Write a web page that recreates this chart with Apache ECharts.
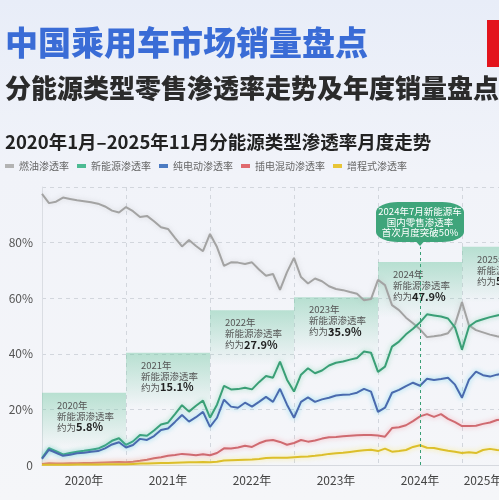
<!DOCTYPE html>
<html>
<head>
<meta charset="utf-8">
<script src="https://cdn.jsdelivr.net/npm/echarts@6/dist/echarts.min.js"></script>
<style>
html, body { margin: 0; padding: 0; overflow: hidden; width: 499px; height: 500px; background: #eef1f8; }
#main { width: 560px; height: 500px; }
</style>
</head>
<body>
<div id="main"></div>
<script>
var dom = document.getElementById('main');
var myChart = echarts.init(dom);
var FONT = '"Noto Sans CJK SC", "Noto Sans", sans-serif';

// month categories 2020-01 .. 2025-11
var months = [];
for (var y = 2020; y <= 2025; y++) {
  for (var m = 1; m <= 12; m++) {
    if (y === 2025 && m > 11) break;
    months.push(y + '-' + (m < 10 ? '0' + m : m));
  }
}

var seriesNames = ['燃油渗透率', '新能源渗透率', '纯电动渗透率', '插电混动渗透率', '增程式渗透率'];

var fuel = [
  97.5, 94.2, 94.7, 96.2, 95.7, 95.2, 94.9, 94.5, 94.0, 93.0, 91.5, 90.8,
  92.8, 91.3, 89.2, 89.6, 87.7, 85.5, 84.9, 81.7, 78.6, 80.9, 78.8, 76.9,
  83.1, 78.4, 71.6, 72.9, 72.8, 72.3, 72.9, 70.3, 68.1, 68.7, 63.0, 69.4,
  74.5, 67.6, 65.3, 67.1, 66.1, 64.3, 63.3, 62.9, 62.2, 61.6, 59.3, 59.7,
  66.6, 64.7, 57.5, 55.7, 53.0, 51.0, 48.8, 46.0, 46.3, 46.7, 47.4, 50.6,
  58.6, 50.2, 48.5, 47.7, 46.9, 46.3, 45.8, 44.7, 42.1, 42.7, 40.5
];
var nev = [
  2.5, 6.1, 5.0, 3.8, 4.3, 4.8, 5.1, 5.5, 5.9, 7.0, 8.7, 9.6,
  7.2, 8.5, 10.8, 10.5, 12.4, 14.6, 15.2, 18.3, 21.5, 19.2, 21.3, 23.2,
  17.0, 21.7, 28.5, 27.2, 27.3, 27.8, 27.2, 29.8, 32.0, 31.4, 37.2, 30.7,
  26.4, 32.5, 34.8, 33.0, 34.0, 35.8, 36.8, 37.2, 37.9, 38.5, 40.8, 40.4,
  33.5, 35.4, 42.6, 44.4, 47.0, 49.0, 51.3, 54.2, 53.8, 53.4, 52.7, 49.5,
  41.5, 49.8, 51.6, 52.4, 53.2, 53.8, 54.3, 55.4, 58.0, 57.4, 59.6
];
var bev = [
  2.2, 5.5, 4.4, 3.3, 3.7, 4.2, 4.4, 4.8, 5.0, 6.0, 7.4, 8.2,
  6.3, 7.2, 9.4, 9.0, 10.4, 12.6, 13.1, 15.5, 18.0, 15.6, 17.2, 19.1,
  13.7, 17.0, 23.5, 21.0, 20.6, 22.4, 21.0, 22.7, 24.5, 22.7, 27.4, 21.7,
  17.0, 22.7, 24.3, 22.7, 23.6, 24.2, 25.0, 25.3, 25.4, 26.0, 27.4, 26.4,
  19.1, 20.6, 26.0, 27.0, 28.4, 29.6, 28.5, 31.0, 30.6, 30.9, 31.4, 28.9,
  24.2, 30.7, 33.6, 32.3, 31.8, 32.5, 33.0, 34.0, 35.6, 35.0, 36.6
];
var phev = [
  0.4, 0.6, 0.5, 0.5, 0.6, 0.6, 0.7, 0.7, 0.8, 0.9, 1.0, 1.1,
  1.0, 1.2, 1.5, 1.9, 2.4, 2.8, 3.3, 3.6, 4.0, 3.8, 3.5, 3.9,
  3.5, 4.3, 6.0, 5.9, 6.3, 6.9, 6.5, 7.8, 8.7, 9.0, 8.3, 7.3,
  7.9, 9.0, 8.4, 8.8, 9.5, 10.0, 10.1, 10.3, 10.5, 10.7, 10.8, 10.8,
  10.6, 10.2, 13.3, 13.6, 14.3, 15.8, 17.5, 18.3, 17.3, 18.3, 16.6, 15.4,
  14.0, 14.0, 14.1, 14.8, 15.3, 16.2, 16.4, 16.6, 16.9, 16.3, 16.6
];
var erev = [
  0.1, 0.1, 0.1, 0.1, 0.1, 0.2, 0.2, 0.2, 0.2, 0.3, 0.3, 0.3,
  0.3, 0.4, 0.5, 0.5, 0.6, 0.7, 0.7, 0.8, 0.9, 1.0, 1.0, 1.1,
  1.0, 1.2, 1.6, 1.7, 1.8, 1.9, 2.0, 2.2, 2.5, 2.6, 2.6, 2.6,
  2.8, 3.0, 3.1, 3.3, 3.6, 4.0, 4.2, 4.4, 4.7, 5.0, 5.3, 5.5,
  5.0, 5.9, 4.8, 5.0, 5.4, 6.5, 7.1, 6.2, 6.1, 5.6, 5.1, 4.8,
  4.3, 4.6, 4.3, 5.4, 5.8, 5.4, 5.2, 5.0, 4.9, 4.8, 4.6
];

// yearly NEV penetration notes
var noteYears = ['2020', '2021', '2022', '2023', '2024', '2025'];
var noteNev = ['5.8%', '15.1%', '27.9%', '35.9%', '47.9%', '53.6%'];
// where each note box starts (y value, %) - layout only
var noteTop = [26, 40.4, 55.7, 60.3, 73, 78.5];

var calloutMonth = '2024-07';
var calloutText = '2024年7月新能源车\n国内零售渗透率\n首次月度突破50%';

var lineColors = ['#a3a3a3', '#3a9f76', '#4a6aae', '#cf6a70', '#dcbf2b'];
var legendColors = ['#b3b3b3', '#4dbb93', '#4c7bc2', '#e06a6e', '#e8c536'];
var glowColors = ['rgba(160,160,160,0.35)', 'rgba(110,210,165,0.7)', 'rgba(90,205,235,0.75)',
                  'rgba(245,150,160,0.75)', 'rgba(250,232,110,0.85)'];
var dataList = [fuel, nev, bev, phev, erev];

var noteAreas = noteYears.map(function (yr, i) {
  var start = yr + '-01';
  var end = i < noteYears.length - 1 ? noteYears[i + 1] + '-01' : months[months.length - 1];
  return [{
    xAxis: start,
    yAxis: noteTop[i],
    itemStyle: {
      color: new echarts.graphic.LinearGradient(0, 0, 0, 1, [
        { offset: 0, color: 'rgba(110,198,160,0.45)' },
        { offset: 1, color: 'rgba(110,198,160,0)' }
      ])
    },
    label: {
      formatter: '{a|' + yr + '年}\n{a|新能源渗透率}\n{a|约为}{b|' + noteNev[i] + '}'
    }
  }, {
    xAxis: end,
    yAxis: noteTop[i] - 20
  }];
});

var series = seriesNames.map(function (name, k) {
  var s = {
    name: name,
    type: 'line',
    data: dataList[k],
    symbol: 'none',
    z: 3,
    itemStyle: { color: legendColors[k] },
    lineStyle: {
      color: lineColors[k],
      width: 2,
      shadowColor: glowColors[k],
      shadowBlur: 5
    },
    emphasis: { disabled: true }
  };
  if (k === 1) {
    s.markLine = {
      silent: true,
      symbol: 'none',
      label: { show: false },
      lineStyle: { color: '#3a9f76', type: [3, 3], width: 1 },
      data: [[{ coord: [calloutMonth, 0] }, { coord: [calloutMonth, 78.5] }]]
    };
    s.markPoint = {
      silent: true,
      data: [{
        coord: [calloutMonth, 87.4],
        symbol: 'roundRect',
        symbolSize: [88, 40],
        itemStyle: { color: '#3fa57b' },
        label: {
          show: true,
          position: 'inside',
          formatter: calloutText,
          color: '#fff',
          fontSize: 9.5,
          lineHeight: 10.5,
          fontFamily: FONT
        }
      }, {
        coord: [calloutMonth, 79.7],
        symbol: 'triangle',
        symbolRotate: 180,
        symbolSize: [9, 5],
        itemStyle: { color: '#3fa57b' },
        label: { show: false }
      }]
    };
  }
  return s;
});

series.unshift({
  name: 'notes',
  type: 'line',
  data: [],
  z: 1,
  silent: true,
  markArea: {
    silent: true,
    label: {
      show: true,
      position: 'insideTopLeft',
      distance: 0,
      padding: [7, 0, 0, 15],
      rich: {
        a: { fontSize: 9.5, color: '#555', lineHeight: 11, fontFamily: FONT },
        b: { fontSize: 11, color: '#222', fontWeight: 'bold', lineHeight: 11, fontFamily: FONT }
      }
    },
    data: noteAreas
  }
});

option = {
  animation: false,
  backgroundColor: new echarts.graphic.LinearGradient(0, 0, 0, 1, [
    { offset: 0, color: '#e8edf8' },
    { offset: 0.35, color: '#f1f3f9' },
    { offset: 1, color: '#f5f6f9' }
  ]),
  textStyle: { fontFamily: FONT },
  title: [{
    text: '中国乘用车市场销量盘点',
    left: 5, top: 26, padding: 0,
    textStyle: { fontSize: 33, fontWeight: 900, color: '#3a6cd6', fontFamily: FONT }
  }, {
    text: '分能源类型零售渗透率走势及年度销量盘点',
    left: 5, top: 75, padding: 0,
    textStyle: { fontSize: 26, fontWeight: 900, color: '#2b2b2b', fontFamily: FONT }
  }, {
    text: '2020年1月–2025年11月分能源类型渗透率月度走势',
    left: 5, top: 133, padding: 0,
    textStyle: { fontSize: 18.5, fontWeight: 'bold', color: '#222', fontFamily: FONT }
  }],
  graphic: [{
    type: 'rect',
    shape: { x: 487, y: 20, width: 30, height: 47 },
    style: { fill: '#e3141c' }
  }],
  legend: {
    data: seriesNames,
    left: 5,
    top: 161,
    icon: 'rect',
    itemWidth: 9,
    itemHeight: 4,
    itemGap: 8,
    padding: 0,
    textStyle: { fontSize: 10, color: '#666', fontFamily: FONT }
  },
  grid: { left: 42, right: 28, top: 187, bottom: 35 },
  xAxis: {
    type: 'category',
    data: months,
    boundaryGap: false,
    axisLine: { lineStyle: { color: '#d6d9df' } },
    axisTick: { show: false },
    axisLabel: {
      color: '#444',
      fontSize: 12,
      margin: 9,
      interval: function (idx, val) {
        var yr = +val.slice(0, 4), mo = +val.slice(5);
        return (yr < 2025 && mo === 7) || (yr === 2025 && mo === 4);
      },
      formatter: function (val) { return val.slice(0, 4) + '年'; }
    },
    splitLine: {
      show: true,
      interval: function (idx, val) { return val.slice(5) === '01'; },
      lineStyle: { color: '#d2d6dd', type: [4, 4] }
    }
  },
  yAxis: {
    type: 'value',
    min: 0,
    max: 100,
    interval: 20,
    axisLine: { show: true, lineStyle: { color: '#dadde3' } },
    axisTick: { show: false },
    axisLabel: {
      color: '#555',
      fontSize: 12,
      margin: 9,
      formatter: function (v) { return v === 0 ? '0' : (v === 100 ? '' : v + '%'); }
    },
    splitLine: { lineStyle: { color: '#d2d6dd', type: [4, 4] } }
  },
  series: series
};

if (option && typeof option === 'object') {
  myChart.setOption(option, true);
}
</script>
</body>
</html>
